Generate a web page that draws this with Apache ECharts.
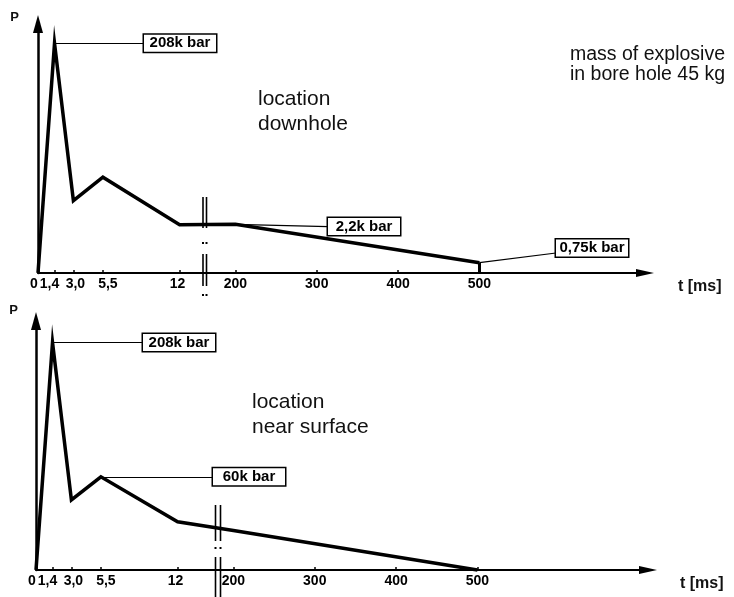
<!DOCTYPE html>
<html>
<head>
<meta charset="utf-8">
<script src="https://cdn.jsdelivr.net/npm/echarts@6/dist/echarts.min.js"></script>
<style>html,body{margin:0;padding:0;background:#fff}#c{width:734px;height:597px}</style>
</head>
<body>
<div id="c"></div>
<script>
// ---------------- data ----------------
const tickTimes = [0, 1.4, 3.0, 5.5, 12, 200, 300, 400, 500];
const tickLabels = ['0', '1,4', '3,0', '5,5', '12', '200', '300', '400', '500'];
const timesMs = [0, 1.4, 3.0, 5.5, 12, 200, 500];
// schematic pressure heights (peak = 100, no scale on the P axis)
const pressureDownhole = [0, 100, 31.5, 41.7, 21.0, 21.2, 4.5];
const pressureNearSurface = [0, 100, 30.8, 41.0, 21.2, 17.4, 0];
const boxDownhole = ['208k bar', '2,2k bar', '0,75k bar'];
const boxNearSurface = ['208k bar', '60k bar'];
const axisTitleY = 'P';
const axisTitleX = 't [ms]';
const noteExplosive = 'mass of explosive\nin bore hole 45 kg';
const noteDownhole = 'location\ndownhole';
const noteSurface = 'location\nnear surface';

// ---------------- layout / style ----------------
const FONT = '"Liberation Sans", Arial, Helvetica, sans-serif';
// horizontal nudge (px) of each tick label, as drawn in the original
const tickLabelNudge = [-4, -5, 2, 5, -2, 0, 0, 0, 0];

// broken time axis made of two linear pieces
const SEG1_SCALE = 11.8;   // axis units per ms, 0..12 ms
const SEG2_ORIGIN = 200;   // ms
const SEG2_START = 197.4;  // axis units where 200 ms sits
const SEG2_SCALE = 0.8135; // axis units per ms, 200..500 ms
function axisPos(t) { return t < 100 ? t * SEG1_SCALE : SEG2_START + (t - SEG2_ORIGIN) * SEG2_SCALE; }
const tickPos = tickTimes.map(axisPos);
function tickLabelFor(v) {
  for (let i = 0; i < tickPos.length; i++) if (Math.abs(tickPos[i] - v) < 1e-6) return '{r' + i + '|' + tickLabels[i] + '}';
  return '';
}
const tickRich = {};
tickLabelNudge.forEach((n, i) => {
  tickRich['r' + i] = { fontFamily: FONT, fontWeight: 'bold', fontSize: 14, color: '#000',
    padding: n >= 0 ? [0, 0, 0, 2 * n] : [0, -2 * n, 0, 0] };
});

function makeXAxis(gridIndex, max) {
  return {
    type: 'value', gridIndex: gridIndex, min: 0, max: max,
    axisLine: { show: true, onZero: false, symbol: ['none', 'triangle'], symbolSize: [8, 18],
      lineStyle: { color: '#000', width: 2 } },
    axisTick: { show: true, inside: true, length: 3, customValues: tickPos,
      lineStyle: { color: '#000', width: 1.5 } },
    axisLabel: { show: true, customValues: tickPos, formatter: tickLabelFor, margin: 4,
      color: '#000', fontFamily: FONT, fontWeight: 'bold', fontSize: 14, rich: tickRich },
    splitLine: { show: false }
  };
}
function makeYAxis(gridIndex, max) {
  return {
    type: 'value', gridIndex: gridIndex, min: 0, max: max,
    axisLine: { show: true, onZero: false, symbol: ['none', 'triangle'], symbolSize: [10, 18],
      lineStyle: { color: '#000', width: 2.5 } },
    axisTick: { show: false }, axisLabel: { show: false }, splitLine: { show: false }
  };
}

const boxLabel = {
  show: true, position: 'end', distance: 0,
  backgroundColor: '#fff', borderColor: '#000', borderWidth: 1.5, padding: [1, 4],
  rich: { b: { width: 64, align: 'center', fontFamily: FONT, fontWeight: 'bold', fontSize: 15, lineHeight: 15, color: '#000' } }
};
function leader(from, to, text, extra) {
  return [
    { coord: from, label: Object.assign({ formatter: '{b|' + text + '}' }, extra || {}) },
    { coord: to }
  ];
}
function pts(times, vals) { return times.map((t, i) => [axisPos(t), vals[i]]); }

const lineStyle = { color: '#000', width: 3.5, join: 'miter', miterLimit: 20 };
const markBase = {
  silent: true, symbol: ['none', 'none'], animation: false,
  lineStyle: { color: '#000', width: 1.2, type: 'solid' },
  label: boxLabel, emphasis: { disabled: true }
};

const topData = pts(timesMs, pressureDownhole);
const botData = pts(timesMs, pressureNearSurface);

const option = {
  animation: false,
  backgroundColor: '#fff',
  grid: [
    { left: 38, top: 24, width: 607, height: 249, outerBoundsMode: 'none', containLabel: false },
    { left: 36, top: 321, width: 612, height: 249, outerBoundsMode: 'none', containLabel: false }
  ],
  xAxis: [makeXAxis(0, 607), makeXAxis(1, 612)],
  yAxis: [makeYAxis(0, 108.4), makeYAxis(1, 109.5)],
  series: [
    {
      type: 'line', xAxisIndex: 0, yAxisIndex: 0, data: topData, symbol: 'none', clip: false,
      lineStyle: lineStyle, emphasis: { disabled: true },
      markLine: Object.assign({}, markBase, {
        data: [
          leader(topData[1], [106, pressureDownhole[1]], boxDownhole[0]),
          leader(topData[5], [290, 20.2], boxDownhole[1]),
          leader(topData[6], [518, 8.7], boxDownhole[2], { offset: [0, -5] }),
          [{ coord: topData[6], lineStyle: { width: 3 }, label: { show: false } }, { coord: [topData[6][0], 0] }]
        ]
      })
    },
    {
      type: 'line', xAxisIndex: 1, yAxisIndex: 1, data: botData, symbol: 'none', clip: false,
      lineStyle: lineStyle, emphasis: { disabled: true },
      markLine: Object.assign({}, markBase, {
        data: [
          leader(botData[1], [107, pressureNearSurface[1]], boxNearSurface[0]),
          leader(botData[3], [177, pressureNearSurface[3]], boxNearSurface[1])
        ]
      })
    }
  ],
  graphic: []
};

function breakMark(xs, segs, dots) {
  const els = [];
  xs.forEach(x => {
    segs.forEach(s => els.push({ type: 'line', silent: true, shape: { x1: x, y1: s[0], x2: x, y2: s[1] },
      style: { stroke: '#000', lineWidth: 1.6 } }));
    dots.forEach(d => els.push({ type: 'rect', silent: true, shape: { x: x - 1, y: d - 1, width: 2, height: 2 },
      style: { fill: '#000' } }));
  });
  return els;
}
function txt(text, x, y, font, align, lh) {
  return { type: 'text', silent: true, x: x, y: y,
    style: { text: text, font: font, fill: '#111', align: align, verticalAlign: 'middle',
      textAlign: align, textVerticalAlign: 'middle', lineHeight: lh || 0 } };
}

option.graphic = []
  .concat(breakMark([203, 206.5], [[197, 228], [254, 286]], [243, 295]))
  .concat(breakMark([215.5, 220.5], [[505, 541], [557, 597]], [548]))
  .concat([
    txt(axisTitleY, 14.5, 17, 'bold 13px ' + FONT, 'center'),
    txt(axisTitleY, 13.5, 310, 'bold 13px ' + FONT, 'center'),
    txt(axisTitleX, 678, 287, 'bold 16px ' + FONT, 'left'),
    txt(axisTitleX, 680, 584, 'bold 16px ' + FONT, 'left'),
    txt(noteExplosive, 570, 65, '19.5px ' + FONT, 'left', 20),
    txt(noteDownhole, 258, 112, '21px ' + FONT, 'left', 25),
    txt(noteSurface, 252, 415, '21px ' + FONT, 'left', 25)
  ]);

const chart = echarts.init(document.getElementById('c'), null, { renderer: 'canvas' });
chart.setOption(option);
</script>
</body>
</html>
